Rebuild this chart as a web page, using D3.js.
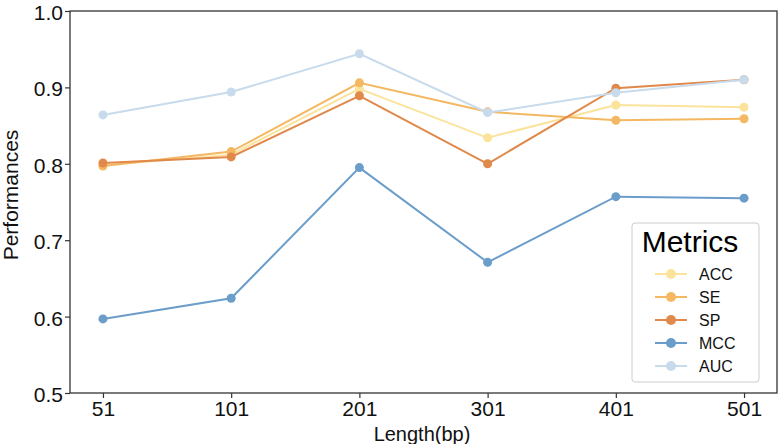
<!DOCTYPE html>
<html>
<head>
<meta charset="utf-8">
<script src="https://cdn.jsdelivr.net/npm/d3@7"></script>
<style>
  body { margin: 0; background: #fff; }
  text { font-family: "Liberation Sans", Arial, sans-serif; }
</style>
</head>
<body>
<script>
// chart data
const lengths = ['51', '101', '201', '301', '401', '501'];
const metricNames = ['ACC', 'SE', 'SP', 'MCC', 'AUC'];
const accValues = [0.798, 0.812, 0.898, 0.834, 0.877, 0.874];
const seValues  = [0.797, 0.816, 0.906, 0.868, 0.857, 0.859];
const spValues  = [0.801, 0.809, 0.889, 0.800, 0.899, 0.910];
const mccValues = [0.597, 0.624, 0.795, 0.671, 0.757, 0.755];
const aucValues = [0.864, 0.894, 0.944, 0.867, 0.893, 0.910];
const yTicks = [0.5, 0.6, 0.7, 0.8, 0.9, 1.0];
const colors = ['#fbe39c', '#f4b762', '#e0894a', '#6b9dca', '#c8dbec'];

const series = [accValues, seValues, spValues, mccValues, aucValues];

const svg = d3.select('body').append('svg')
              .attr('width', 780)
              .attr('height', 444);

const mLeft = 70, mRight = 777, mTop = 11, mBottom = 393;

const x = d3.scalePoint().domain(lengths).range([mLeft, mRight]).padding(0.257);
const y = d3.scaleLinear().domain([0.5, 1.0]).range([mBottom, mTop]);

// lines, drawn in order so later series sit on top
series.forEach((vals, i) => {
  const g = svg.append('g');
  g.append('path')
   .datum(vals)
   .attr('d', d3.line().x((d, j) => x(lengths[j])).y(d => y(d)))
   .style('fill', 'none').style('stroke', colors[i]).style('stroke-width', 2);
  g.selectAll('circle').data(vals).join('circle')
   .attr('cx', (d, j) => x(lengths[j])).attr('cy', d => y(d)).attr('r', 4.5)
   .style('fill', colors[i]);
});

// frame
svg.append('rect')
   .attr('x', mLeft).attr('y', mTop).attr('width', mRight - mLeft).attr('height', mBottom - mTop)
   .style('fill', 'none').style('stroke', '#333').style('stroke-width', 1.3);

// axes
const xAxis = svg.append('g').attr('transform', `translate(0,${mBottom})`)
                 .call(d3.axisBottom(x).tickSize(5).tickPadding(3));
const yAxis = svg.append('g').attr('transform', `translate(${mLeft},0)`)
                 .call(d3.axisLeft(y).tickValues(yTicks).tickFormat(d3.format('.1f')).tickSize(5).tickPadding(2));
[xAxis, yAxis].forEach(a => {
  a.select('.domain').remove();
  a.selectAll('line').style('stroke', '#333').style('stroke-width', 1.2);
  a.selectAll('text').style('font-size', '21px').style('fill', '#111')
   .style('font-family', '"Liberation Sans", Arial, sans-serif');
});
yAxis.selectAll('text').attr('dy', '0.4em');

svg.append('text').attr('x', 422).attr('y', 441)
   .attr('text-anchor', 'middle').style('font-size', '20px').style('fill', '#111')
   .text('Length(bp)');
svg.append('text').attr('transform', 'translate(18,195) rotate(-90)')
   .attr('text-anchor', 'middle').style('font-size', '21px').style('fill', '#111')
   .text('Performances');

// legend
const legend = svg.append('g').attr('transform', 'translate(632,223)');
legend.append('rect').attr('width', 127).attr('height', 159).attr('rx', 3)
      .style('fill', 'white').style('fill-opacity', 0.85).style('stroke', '#ccc').style('stroke-width', 1);
legend.append('text').attr('x', 58).attr('y', 29).attr('text-anchor', 'middle')
      .style('font-size', '30px').style('fill', '#000').text('Metrics');
metricNames.forEach((m, i) => {
  const row = legend.append('g').attr('transform', `translate(0,${51 + i * 23})`);
  row.append('line').attr('x1', 23).attr('x2', 55).style('stroke', colors[i]).style('stroke-width', 2);
  row.append('circle').attr('cx', 39).attr('r', 5).style('fill', colors[i]);
  row.append('text').attr('x', 67).attr('y', 6).style('font-size', '16px').style('fill', '#111').text(m);
});
</script>
</body>
</html>
